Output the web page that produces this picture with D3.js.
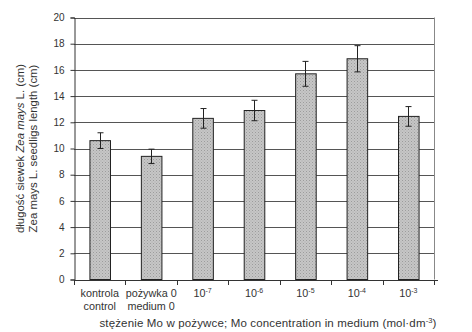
<!DOCTYPE html>
<html>
<head>
<meta charset="utf-8">
<script src="https://cdn.jsdelivr.net/npm/d3@7"></script>
<style>
  html, body { margin: 0; padding: 0; background: #fff; }
  svg { display: block; }
  text { font-family: "Liberation Sans", Arial, sans-serif; fill: #333; }
</style>
</head>
<body>
<svg id="chart" width="472" height="332"></svg>
<script>
// Seedling length of Zea mays L. by Mo concentration in the medium
const categories = ["kontrola|control", "pożywka 0|medium 0", "10^-7", "10^-6", "10^-5", "10^-4", "10^-3"];
const means = [10.6, 9.4, 12.3, 12.9, 15.7, 16.85, 12.45];
const errors = [0.6, 0.55, 0.75, 0.78, 0.95, 1.0, 0.75];
const yTicks = [0, 2, 4, 6, 8, 10, 12, 14, 16, 18, 20];

const svg = d3.select("#chart");
const margin = { left: 74, right: 38, top: 17.5, bottom: 52.5 };
const W = 472, H = 332;

const x = d3.scaleBand()
  .domain(categories)
  .range([margin.left, W - margin.right])
  .paddingInner(0.6)
  .paddingOuter(0.3);

const y = d3.scaleLinear().domain([0, 20]).range([H - margin.bottom, margin.top]);

// dotted texture for the bars
const defs = svg.append("defs");
const pat = defs.append("pattern")
  .attr("id", "stipple").attr("patternUnits", "userSpaceOnUse")
  .attr("width", 3).attr("height", 3);
pat.append("rect").attr("width", 3).attr("height", 3).attr("fill", "#c6c6c6");
pat.append("rect").attr("x", 0).attr("y", 0).attr("width", 1).attr("height", 1).attr("fill", "#9c9c9c");
pat.append("rect").attr("x", 1.5).attr("y", 1.5).attr("width", 1).attr("height", 1).attr("fill", "#aaaaaa");

// horizontal gridlines
svg.append("g")
  .selectAll("line")
  .data(yTicks.filter(d => d > 0))
  .join("line")
  .attr("x1", margin.left).attr("x2", W - margin.right)
  .attr("y1", d => Math.round(y(d)) + 0.5).attr("y2", d => Math.round(y(d)) + 0.5)
  .attr("stroke", "#555").attr("stroke-width", 1);

// right border of plot area
svg.append("line")
  .attr("x1", W - margin.right + 0.5).attr("x2", W - margin.right + 0.5)
  .attr("y1", y(20)).attr("y2", y(0))
  .attr("stroke", "#888");

// bars
svg.append("g")
  .selectAll("rect")
  .data(means)
  .join("rect")
  .attr("x", (d, i) => x(categories[i]) + 0.5)
  .attr("y", d => y(d))
  .attr("width", x.bandwidth())
  .attr("height", d => y(0) - y(d))
  .attr("fill", "url(#stipple)")
  .attr("stroke", "#222").attr("stroke-width", 1);

// error bars
const eb = svg.append("g").attr("stroke", "#222").attr("stroke-width", 1);
means.forEach((m, i) => {
  const cx = Math.round(x(categories[i]) + x.bandwidth() / 2) + 0.5;
  const top = y(m + errors[i]), bot = y(m - errors[i]);
  eb.append("line").attr("x1", cx).attr("x2", cx).attr("y1", top).attr("y2", bot);
  eb.append("line").attr("x1", cx - 3).attr("x2", cx + 3).attr("y1", top).attr("y2", top);
  eb.append("line").attr("x1", cx - 3).attr("x2", cx + 3).attr("y1", bot).attr("y2", bot);
});

// y axis
const yAxis = svg.append("g")
  .attr("transform", `translate(${margin.left + 0.5},0)`)
  .call(d3.axisLeft(y).tickValues(yTicks).tickSize(4).tickPadding(6));
yAxis.select(".domain").attr("stroke", "#333");
yAxis.selectAll(".tick line").attr("stroke", "#333");
yAxis.selectAll(".tick text").style("font-size", "10px").attr("fill", "#333");

// x axis baseline and separators between categories
const xg = svg.append("g");
xg.append("line")
  .attr("x1", margin.left).attr("x2", W - margin.right + 4)
  .attr("y1", Math.round(y(0)) + 0.5).attr("y2", Math.round(y(0)) + 0.5)
  .attr("stroke", "#333");
const bounds = d3.range(categories.length + 1).map(i => margin.left + i * (W - margin.left - margin.right) / categories.length);
xg.selectAll("line.sep")
  .data(bounds)
  .join("line").attr("class", "sep")
  .attr("x1", d => Math.round(d) + 0.5).attr("x2", d => Math.round(d) + 0.5)
  .attr("y1", Math.round(y(0)) + 0.5).attr("y2", Math.round(y(0)) + 5)
  .attr("stroke", "#333");

// category labels
const labY = 297;
categories.forEach(c => {
  const cx = x(c) + x.bandwidth() / 2;
  const t = svg.append("text").attr("x", cx).attr("y", labY)
    .attr("text-anchor", "middle").style("font-size", "10.8px");
  if (c.includes("^")) {
    const [base, exp] = c.split("^");
    t.append("tspan").text(base);
    t.append("tspan").attr("dy", -4).style("font-size", "7px").text(exp);
  } else {
    const [a, b] = c.split("|");
    t.text(a);
    svg.append("text").attr("x", cx).attr("y", labY + 12.5)
      .attr("text-anchor", "middle").style("font-size", "10.8px").text(b);
  }
});

// x axis title
const xt = svg.append("text").attr("x", 268).attr("y", 326.5)
  .attr("text-anchor", "middle").style("font-size", "11.5px").style("letter-spacing", "0.15px");
xt.append("tspan").text("stężenie Mo w pożywce; Mo concentration in medium (mol·dm");
xt.append("tspan").attr("dy", -4).style("font-size", "7.5px").text("-3");
xt.append("tspan").attr("dy", 4).text(")");

// y axis title (two lines)
const yMid = (y(0) + y(20)) / 2;
const yt1 = svg.append("text")
  .attr("transform", `translate(24,${yMid}) rotate(-90)`)
  .attr("text-anchor", "middle").style("font-size", "11.4px");
yt1.append("tspan").text("długość siewek ");
yt1.append("tspan").style("font-style", "italic").text("Zea mays");
yt1.append("tspan").text(" L. (cm)");
svg.append("text")
  .attr("transform", `translate(37,${yMid}) rotate(-90)`)
  .attr("text-anchor", "middle").style("font-size", "11.4px")
  .text("Zea mays L. seedligs length (cm)");
</script>
</body>
</html>
